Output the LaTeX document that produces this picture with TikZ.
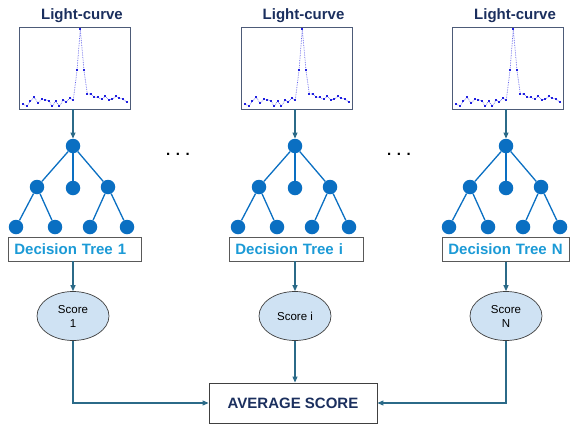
\documentclass[tikz,border=0pt]{standalone}
\usepackage{fontspec}
\setmainfont{Liberation Sans}
\usetikzlibrary{shapes.geometric,arrows.meta}
\definecolor{navy}{HTML}{1B2F5E}
\definecolor{dtblue}{HTML}{1B9AD6}
\definecolor{treeblue}{HTML}{0A6FC2}
\definecolor{connc}{HTML}{2B6A88}
\definecolor{scorefill}{HTML}{CFE2F3}
\definecolor{ptblue}{HTML}{2020E0}
\definecolor{plotframe}{HTML}{4D5B78}
\begin{document}
\begin{tikzpicture}[x=1pt,y=-1pt,
 title/.style={font=\bfseries\fontsize{15}{16}\selectfont, text=navy, inner sep=0pt},
 plotbox/.style={draw=plotframe, line width=0.8pt, minimum width=111pt, minimum height=82pt, inner sep=0pt},
 tnode/.style={circle, fill=treeblue, minimum size=14.5pt, inner sep=0pt},
 tedge/.style={treeblue, line width=1.3pt},
 dtbox/.style={draw=black!65, line width=0.8pt, minimum height=24pt, inner xsep=6pt, align=left, font=\bfseries\fontsize{15}{17}\selectfont, text=dtblue, anchor=west},
 score/.style={ellipse, draw=black!75, fill=scorefill, line width=0.7pt, minimum width=72pt, minimum height=49pt, inner sep=0pt, align=center, font=\fontsize{11.5}{14}\selectfont},
 conn/.style={draw=connc, line width=1.1pt, -{Triangle[length=6pt,width=5pt]}},
 avgbox/.style={draw=black!75, line width=0.9pt, minimum width=168pt, minimum height=40pt, font=\bfseries\fontsize{15}{16}\selectfont, text=navy},
 dotsnode/.style={font=\bfseries\fontsize{15}{16}\selectfont, inner sep=0pt},
 lcurve/.pic={
   \draw[densely dotted, draw=ptblue!70, line width=0.7pt]
     plot coordinates {(4.3,76.7) (7.7,79.3) (11.3,74.3) (15.3,70.3) (19,76) (22.7,72.3)
       (26,72.7) (29.7,73.7) (33.3,79.3) (36.7,74) (40.3,79.3) (44,73.3) (47.3,74.7)
       (51,71.3) (54.3,73.3) (58,43.3) (61.3,2.3) (65,43.3) (68.3,67) (72,67)
       (75.3,70.3) (79,70.3) (82.7,72.3) (86.3,69.3) (89.7,72.7) (93.3,72.3)
       (97,69.3) (100.3,71) (104,72.3) (107.7,75)};
   \foreach \p in {{4.3,76.7},{7.7,79.3},{11.3,74.3},{15.3,70.3},{19,76},{22.7,72.3},
       {26,72.7},{29.7,73.7},{33.3,79.3},{36.7,74},{40.3,79.3},{44,73.3},{47.3,74.7},
       {51,71.3},{54.3,73.3},{58,43.3},{61.3,2.3},{65,43.3},{68.3,67},{72,67},
       {75.3,70.3},{79,70.3},{82.7,72.3},{86.3,69.3},{89.7,72.7},{93.3,72.3},
       {97,69.3},{100.3,71},{104,72.3},{107.7,75}}
     \fill[ptblue] (\p) +(-1,-1) rectangle +(1,1);
 }
 ]
\useasboundingbox (0,0) rectangle (573,426);

% titles and plots
\node[title] (t1) at (82,16) {Light-curve};
\node[title] (t2) at (303.5,16) {Light-curve};
\node[title] (t3) at (515,16) {Light-curve};
\node[plotbox] (lc1) at (74.5,68) {};
\node[plotbox] (lc2) at (296.5,68) {};
\node[plotbox] (lc3) at (507.5,68) {};
\pic at (19,27) {lcurve};
\pic at (241,27) {lcurve};
\pic at (452,27) {lcurve};

% trees
\foreach \i/\cx in {1/73,2/295,3/506} {
  \node[tnode] (r\i) at (\cx,146) {};
  \node[tnode] (a\i) at (\cx-36,187) {};
  \node[tnode] (b\i) at (\cx,188) {};
  \node[tnode] (c\i) at (\cx+35,187) {};
  \node[tnode] (d\i) at (\cx-57,227) {};
  \node[tnode] (e\i) at (\cx-18,227) {};
  \node[tnode] (f\i) at (\cx+17,227) {};
  \node[tnode] (g\i) at (\cx+54,227) {};
  \draw[tedge] (r\i) -- (a\i);
  \draw[tedge] (r\i) -- (b\i);
  \draw[tedge] (r\i) -- (c\i);
  \draw[tedge] (a\i) -- (d\i);
  \draw[tedge] (a\i) -- (e\i);
  \draw[tedge] (c\i) -- (f\i);
  \draw[tedge] (c\i) -- (g\i);
  \draw[conn] (lc\i.south -| r\i) -- (r\i);
}

\node[dotsnode] (dots1) at (178,154) {. . .};
\node[dotsnode] (dots2) at (399,154) {. . .};

% decision tree boxes
\node[dtbox, text width=121pt] (dt1) at (8,249) {Decision Tree 1};
\node[dtbox, text width=122pt] (dt2) at (229,249) {Decision Tree i};
\node[dtbox, text width=115pt] (dt3) at (442,249.5) {Decision Tree N};

% scores
\node[score] (s1) at (73,316) {Score\\1};
\node[score] (s2) at (295,316) {Score i};
\node[score] (s3) at (506,316) {Score\\N};

\foreach \i in {1,2,3} {
  \draw[conn] (dt\i.south -| s\i.north) -- (s\i.north);
}

% average
\node[avgbox] (avg) at (293,403) {AVERAGE SCORE};
\draw[conn] (s1.south) |- (avg.west);
\draw[conn] (s2.south) -- (s2.south |- avg.north);
\draw[conn] (s3.south) |- (avg.east);
\end{tikzpicture}
\end{document}
